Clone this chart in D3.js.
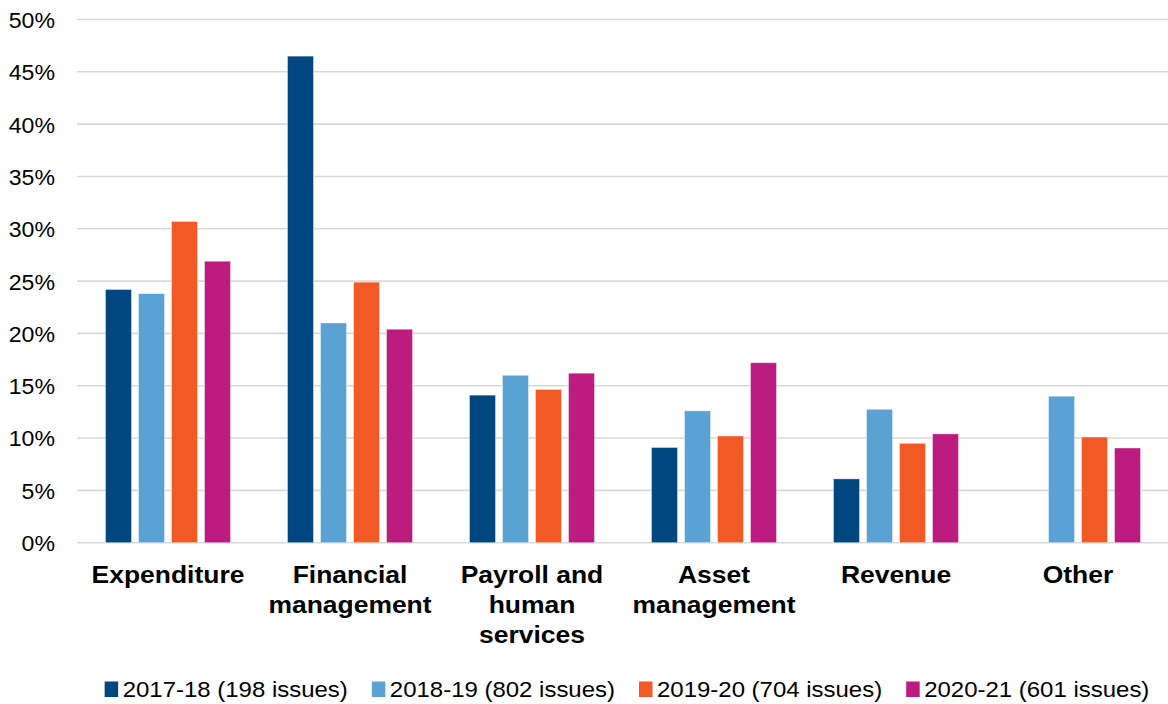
<!DOCTYPE html>
<html>
<head>
<meta charset="utf-8">
<script src="https://cdn.jsdelivr.net/npm/d3@7"></script>
<style>
  body { margin: 0; background: #fff; }
  svg text { font-family: "Liberation Sans", Arial, sans-serif; fill: #000; }
</style>
</head>
<body>
<div id="chart"></div>
<script>
// categories (wrapped as shown on the axis)
var categories = ["Expenditure", "Financial management", "Payroll and human services",
                  "Asset management", "Revenue", "Other"];
var categoryLines = [["Expenditure"], ["Financial", "management"], ["Payroll and", "human", "services"],
                     ["Asset", "management"], ["Revenue"], ["Other"]];

var seriesNames = ["2017-18 (198 issues)", "2018-19 (802 issues)", "2019-20 (704 issues)", "2020-21 (601 issues)"];
var seriesColors = ["#00467f", "#5aa1d4", "#f15a24", "#bc1b80"];

// percent of issues, one array per year
var values2017 = [24.2, 46.5, 14.1, 9.1, 6.1, null];
var values2018 = [23.8, 21.0, 16.0, 12.6, 12.75, 14.0];
var values2019 = [30.7, 24.9, 14.65, 10.2, 9.5, 10.1];
var values2020 = [26.9, 20.4, 16.2, 17.2, 10.4, 9.05];
var allValues = [values2017, values2018, values2019, values2020];

var yTicks = [0, 5, 10, 15, 20, 25, 30, 35, 40, 45, 50];

var width = 1168, height = 704;
var plot = {left: 77, right: 1169, top: 19.5, bottom: 542.7};

var svg = d3.select("#chart")
    .append("svg")
    .attr("width", width)
    .attr("height", height);

var x0 = d3.scaleBand()
    .domain(categories)
    .range([plot.left, plot.right])
    .paddingInner(0.313)
    .paddingOuter(0.1565);

var x1 = d3.scaleBand()
    .domain(seriesNames)
    .range([0, x0.bandwidth()])
    .paddingInner(0.212)
    .paddingOuter(0);

var y = d3.scaleLinear()
    .domain([0, 50])
    .range([plot.bottom, plot.top]);

// gridlines
svg.append("g")
    .selectAll("line")
    .data(yTicks)
    .enter()
    .append("line")
    .attr("x1", plot.left)
    .attr("x2", width)
    .attr("y1", function (d) { return y(d); })
    .attr("y2", function (d) { return y(d); })
    .attr("stroke", "#d9d9d9")
    .attr("stroke-width", 1.6);

// y axis labels (text in the reference is a little wider than Arial, hence scaleX)
var yAxis = d3.axisLeft(y)
    .tickValues(yTicks)
    .tickFormat(function (d) { return d + "%"; })
    .tickSize(0)
    .tickPadding(0);

svg.append("g")
    .attr("transform", "translate(55,0)")
    .call(yAxis)
    .call(function (g) { g.select(".domain").remove(); })
    .selectAll("text")
    .style("font-size", "22px")
    .attr("fill", "#000")
    .attr("dy", "0.36em")
    .attr("transform", "scale(1.05,1)");

// bars
var groups = svg.append("g")
    .selectAll("g")
    .data(categories)
    .enter()
    .append("g")
    .attr("transform", function (d) { return "translate(" + x0(d) + ",0)"; });

groups.selectAll("rect")
    .data(function (d, i) {
        return seriesNames.map(function (s, j) {
            return {series: s, idx: j, value: allValues[j][i]};
        }).filter(function (e) { return e.value != null; });
    })
    .enter()
    .append("rect")
    .attr("x", function (d) { return x1(d.series); })
    .attr("width", x1.bandwidth())
    .attr("y", function (d) { return y(d.value); })
    .attr("height", function (d) { return y(0) - y(d.value); })
    .attr("fill", function (d) { return seriesColors[d.idx]; })
    .attr("stroke", "#ffffff")
    .attr("stroke-opacity", 0.5)
    .attr("stroke-width", 0.8);

// category labels
var catLabels = svg.append("g")
    .selectAll("text")
    .data(categories)
    .enter()
    .append("text")
    .attr("transform", function (d) {
        return "translate(" + (x0(d) + x0.bandwidth() / 2) + ",582.5) scale(1.08,1)";
    })
    .attr("text-anchor", "middle")
    .style("font-size", "24.5px")
    .style("font-weight", "bold");

catLabels.selectAll("tspan")
    .data(function (d, i) { return categoryLines[i]; })
    .enter()
    .append("tspan")
    .attr("x", 0)
    .attr("dy", function (d, i) { return i === 0 ? 0 : 30.5; })
    .text(function (d) { return d; });

// legend
var legend = svg.append("g");
var items = legend.selectAll("g")
    .data(seriesNames)
    .enter()
    .append("g");

items.append("rect")
    .attr("width", 13.5)
    .attr("height", 15.5)
    .attr("y", 681.5)
    .attr("fill", function (d, i) { return seriesColors[i]; });

items.append("text")
    .attr("transform", "translate(18,697) scale(1.09,1)")
    .style("font-size", "22px")
    .text(function (d) { return d; });

var offset = 0, positions = [];
items.each(function () {
    positions.push(offset);
    offset += this.getBBox().width + 24;
});
var total = offset - 24;
var startX = 627 - total / 2;
items.attr("transform", function (d, i) { return "translate(" + (startX + positions[i]) + ",0)"; });
</script>
</body>
</html>
